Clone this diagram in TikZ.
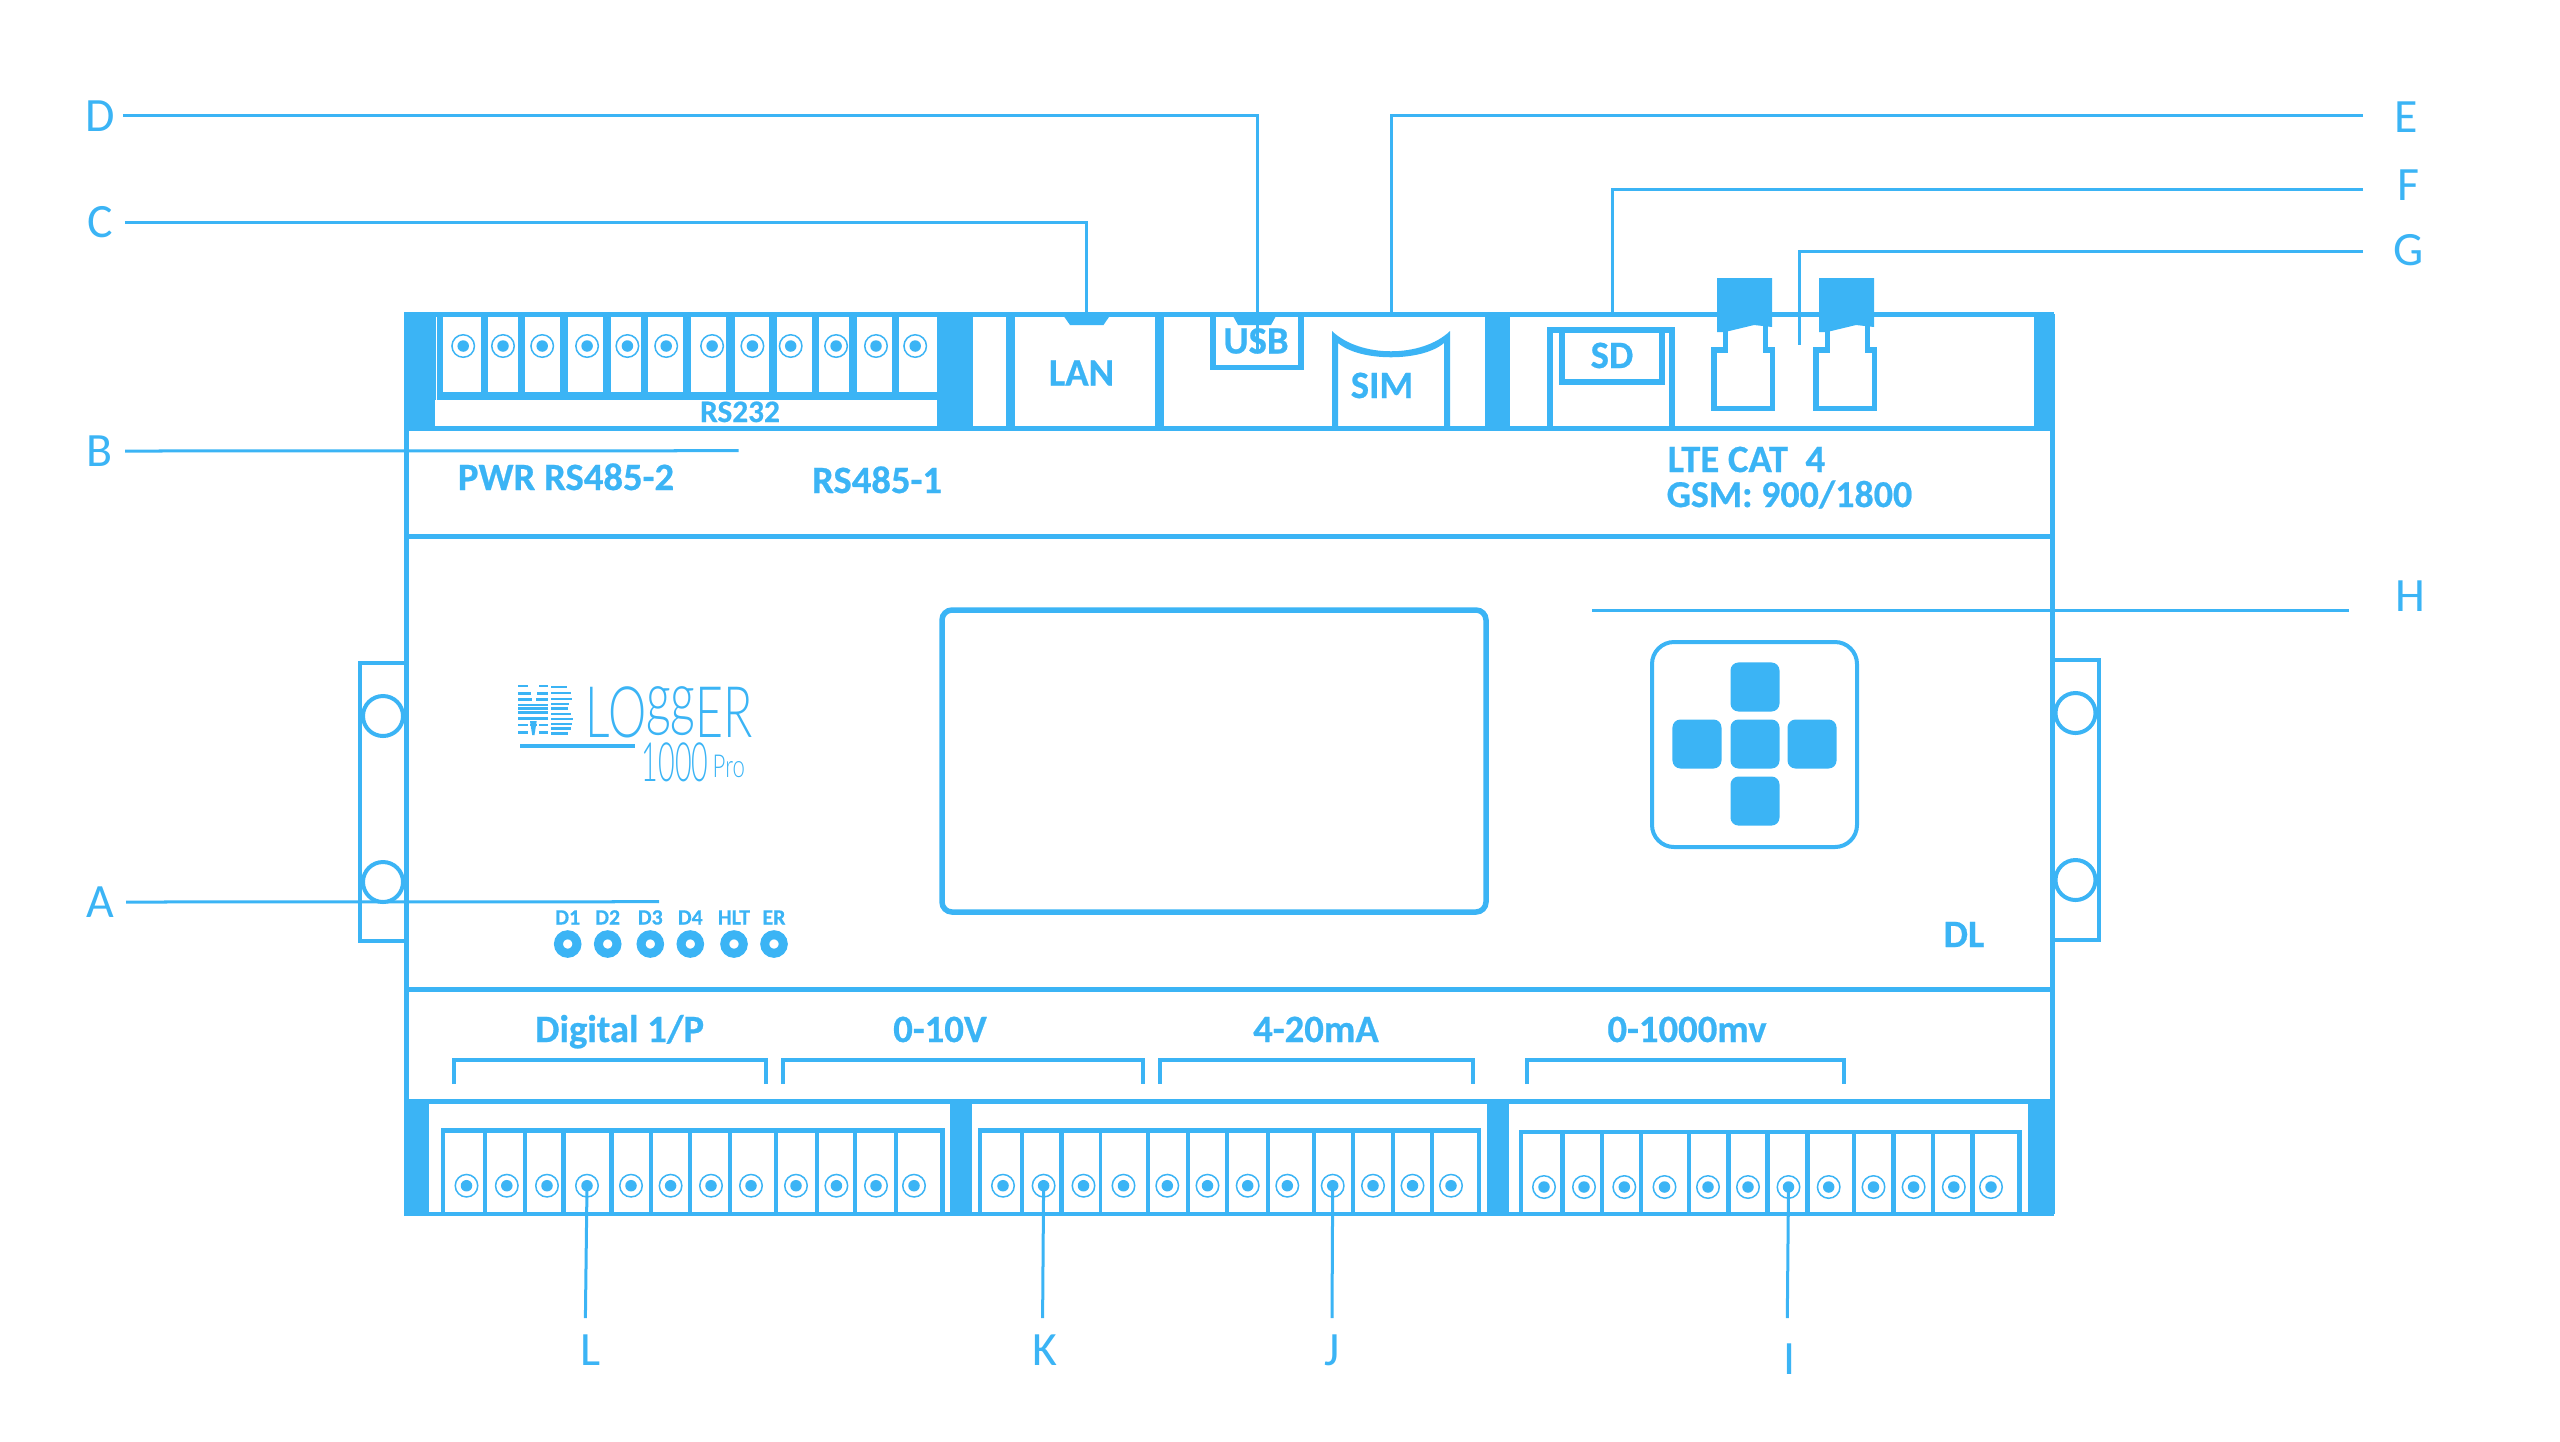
\documentclass[tikz,border=0pt]{standalone}
\usepackage{fontspec}
\setmainfont{Carlito}[BoldFeatures={FakeBold=0.6}]
\newfontfamily\logofont{Lato}[UprightFont=* Light]
\usepackage{xcolor}
\definecolor{dlblue}{HTML}{3BB4F5}
\usetikzlibrary{positioning}

\begin{document}
\begin{tikzpicture}
          [x=0.01cm, y=-0.01cm,
           leader/.style={draw=dlblue, line width=0.03cm},
           tag/.style={text=dlblue, font=\fontsize{13.6}{15}\selectfont, text height=0.31cm, text depth=0pt, inner sep=0.07cm},
           panel/.style={text=dlblue, font=\bfseries\fontsize{11}{13}\selectfont, anchor=base, inner sep=0pt},
           small panel/.style={panel, font=\bfseries\fontsize{8.9}{10}\selectfont},
           led panel/.style={panel, font=\bfseries\fontsize{6.2}{7}\selectfont},
           heavy/.style={draw=dlblue, line width=0.05cm},
           clip line/.style={draw=dlblue, line width=0.04cm},
           termring/.style={circle, draw=dlblue, line width=0.015cm, fill=white, minimum size=0.225cm, inner sep=0pt, outer sep=0pt},
           termdot/.style={circle, fill=dlblue, minimum size=0.115cm, inner sep=0pt, outer sep=0pt},
           ledspot/.style={circle, draw=dlblue, line width=0.09cm, fill=white, minimum size=0.185cm, inner sep=0pt, outer sep=0pt},
           keybtn/.style={rectangle, rounded corners=0.08cm, fill=dlblue, minimum size=0.49cm, inner sep=0pt, outer sep=0pt},
           hole/.style={circle, draw=dlblue, line width=0.04cm, fill=white, minimum size=0.40cm, inner sep=0pt, outer sep=0pt},
           logotext/.style={text=dlblue, anchor=base west, inner sep=0pt}]
          \useasboundingbox (0,0) rectangle (2560,1441);

          % clips at the sides
          \draw[clip line] (406,663) -- (360,663) -- (360,941) -- (406,941);
          \draw[clip line] (2052,660) -- (2099,660) -- (2099,940) -- (2052,940);
          \node (holea) [hole] at (383,716) {};
          \node (holeb) [hole] at (383,882) {};
          \node (holec) [hole] at (2075.5,713) {};
          \node (holed) [hole] at (2075.5,880) {};

          % top band
          \fill[dlblue] (404,312) rectangle (1164,431);
          \fill[white] (436,316) rectangle (437,400);
          \foreach \a/\b in {443.3/480.5, 488/518, 525.4/560, 567.8/603, 610.6/640.7, 647.9/683, 690.7/726.4, 734.6/769.3, 777/812, 819.3/849.4, 857/891.7, 899.4/937}
            \fill[white] (\a,316) rectangle (\b,392);
          \fill[white] (435,400) rectangle (937,426);
          \fill[white] (973,316) rectangle (1005.5,426);
          \fill[white] (1015,316) rectangle (1155,426);
          \fill[dlblue] (1485,312) rectangle (1509.5,431);
          \fill[dlblue] (2033.6,312) rectangle (2054,431);
          \foreach \x [count=\i] in {463.2, 503, 542.2, 587.1, 627.4, 666.2, 712.1, 752.4, 790.7, 836.1, 876, 915.2} {
            \node (topring\i) [termring] at (\x,346) {};
            \node (topdot\i) [termdot] at (\x,346) {};
          }
          \fill[dlblue] (1063.7,316) -- (1109.6,316) -- (1103.5,325) -- (1070,325) -- cycle;

          % frame
          \draw[heavy] (406,314) -- (406,1214);
          \draw[heavy] (2052,314) -- (2052,1214);
          \draw[heavy] (404,314) -- (2054,314);
          \draw[heavy] (404,428.5) -- (2054,428.5);
          \draw[heavy] (404,536.5) -- (2054,536.5);
          \draw[heavy] (404,989) -- (2054,989);
          \draw[heavy] (404,1101) -- (2054,1101);

          % usb, sim, sd, antennas
          \draw[line width=0.055cm, draw=dlblue] (1213,314) -- (1213,367.5) -- (1301,367.5) -- (1301,314);
          \fill[dlblue] (1233,316) -- (1276,316) -- (1271,325) -- (1238,325) -- cycle;
          \fill[dlblue] (1332,331) .. controls (1360,358) and (1422,358) .. (1450,331)
            -- (1450,426) -- (1444,426) -- (1444,343) .. controls (1422,362) and (1360,362) .. (1338,343)
            -- (1338,426) -- (1332,426) -- cycle;
          \draw[line width=0.06cm, draw=dlblue] (1550,428) -- (1550,330) -- (1672,330) -- (1672,428);
          \draw[line width=0.055cm, draw=dlblue] (1562,330) -- (1562,382) -- (1662,382) -- (1662,330);
          \foreach \px in {0,102} {
            \begin{scope}[shift={(\px,0)}]
              \fill[dlblue] (1717,278) -- (1772,278) -- (1772,327) -- (1754,325) -- (1725,332) -- (1717,332) -- cycle;
              \draw[line width=0.055cm, draw=dlblue] (1725.3,328) -- (1725.3,350) -- (1714,350) -- (1714,408.5) -- (1772.4,408.5) -- (1772.4,350) -- (1765.5,350) -- (1765.5,325);
            \end{scope}
          }

          % screen and keypad
          \draw[draw=dlblue, line width=0.055cm, rounded corners=0.1cm] (942,610) rectangle (1486,912);
          \draw[draw=dlblue, line width=0.04cm, rounded corners=0.22cm] (1652,642) rectangle (1857,847);
          \node (keymid) [keybtn] at (1755,744) {};
          \node (keyup) [keybtn, above = 0.08cm of keymid] {};
          \node (keydown) [keybtn, below = 0.08cm of keymid] {};
          \node (keyleft) [keybtn, left = 0.09cm of keymid] {};
          \node (keyright) [keybtn, right = 0.08cm of keymid] {};

          % logo
          \foreach \r/\a/\b in {686/518.3/528.3, 686/539/548.3, 693.3/518.3/530.7, 693.3/536.7/548.3, 699.3/518.3/531.7, 699.3/535.7/548.3, 705/518.3/548.3, 708.3/518.3/548.3, 712.3/518.3/548.3, 718.3/518.3/548.3, 725/518.3/528.3, 725/530/536.7, 725/539/548.3, 732.3/518.3/528.3, 732.3/539/548.3, 686.7/551/566.7, 692.7/551/570.7, 698.7/551/572.3, 703.7/551/569.3, 708.3/551/568.3, 714/551/571, 718.7/551/573, 723.7/551/572.3, 728.3/551/570.7, 733.3/551/568.3}
            \fill[dlblue] (\a,\r-1.2) rectangle (\b,\r+1.2);
          \fill[dlblue] (530,721) -- (536.7,721) -- (534.5,735) -- (532.2,735) -- cycle;
          \fill[dlblue] (520,744) rectangle (635,748);
          \node (logoa) [logotext] at (585,737) {\logofont\fontsize{20.2}{22}\selectfont\scalebox{0.68}[1]{LO\raisebox{0.2em}{gg}ER}};
          \node (logob) [logotext] at (641,781) {\logofont\fontsize{15.4}{16}\selectfont\scalebox{0.53}[1]{1000}};
          \node (logoc) [logotext] at (712,777) {\logofont\fontsize{9}{10}\selectfont\scalebox{0.7}[1]{Pro}};

          % leds
          \foreach \x/\txt [count=\i] in {567.7/D1, 607.7/D2, 650.3/D3, 690.3/D4, 734/HLT, 774/ER} {
            \node (ledspot\i) [ledspot] at (\x,944) {};
            \node (ledtxt\i) [led panel] at (\x,924.5) {\txt};
          }

          % bottom band
          \fill[dlblue] (404,1099) rectangle (429,1216);
          \fill[dlblue] (950,1099) rectangle (972,1216);
          \fill[dlblue] (1486.5,1099) rectangle (1509,1216);
          \fill[dlblue] (2028,1099) rectangle (2054,1216);
          \fill[dlblue] (404,1212) rectangle (2054,1216);
          \fill[dlblue] (441,1128) rectangle (944.6,1216);
          \fill[dlblue] (978,1128) rectangle (1481,1216);
          \fill[dlblue] (1518.7,1130) rectangle (2021.5,1216);
          \foreach \a/\b in {445/483, 487/523, 527/561.4, 566/609, 613.5/649, 653/688, 692/728, 732/774, 778/814.5, 818.6/853, 857/894, 897.7/940, 982/1019.6, 1024/1059, 1063.5/1098.7, 1102/1146, 1150/1186, 1190/1225, 1229/1266, 1270/1311.5, 1315.5/1351, 1355/1391, 1395/1430, 1434/1477}
            \fill[white] (\a,1133) rectangle (\b,1212);
          \foreach \a/\b in {1522.7/1560, 1564.6/1599.6, 1604/1639, 1643/1687, 1691/1726, 1730.5/1765, 1769.5/1805, 1809.7/1851.6, 1856/1891, 1896/1931, 1935.4/1970, 1975/2017}
            \fill[white] (\a,1134) rectangle (\b,1212);
          \foreach \x [count=\i] in {466.5, 506.8, 547, 587, 631, 670.6, 711, 751, 796, 836.4, 876, 914} {
            \node (lowring\i) [termring] at (\x,1185.7) {};
            \node (lowdot\i) [termdot] at (\x,1185.7) {};
          }
          \foreach \x [count=\i] in {1003, 1043.6, 1083.5, 1123.5, 1167.3, 1207.5, 1247.7, 1287.3, 1332.7, 1373, 1412.5, 1451} {
            \node (midring\i) [termring] at (\x,1185.7) {};
            \node (middot\i) [termdot] at (\x,1185.7) {};
          }
          \foreach \x [count=\i] in {1544, 1584, 1624.3, 1664.5, 1708, 1748, 1788.5, 1828.7, 1873.5, 1913.6, 1953.8, 1991} {
            \node (endring\i) [termring] at (\x,1187) {};
            \node (enddot\i) [termdot] at (\x,1187) {};
          }

          % group brackets
          \draw[clip line] (454,1084) -- (454,1059.5) -- (765.5,1059.5) -- (765.5,1084);
          \draw[clip line] (783,1084) -- (783,1059.5) -- (1143,1059.5) -- (1143,1084);
          \draw[clip line] (1160,1084) -- (1160,1059.5) -- (1472.5,1059.5) -- (1472.5,1084);
          \draw[clip line] (1526.5,1084) -- (1526.5,1059.5) -- (1844,1059.5) -- (1844,1084);

          % printed texts
          \node (lan) [panel] at (1081.5,385.5) {LAN};
          \node (rsb) [small panel] at (740,422) {RS232};
          \node (pwr) [panel] at (566,490) {PWR RS485-2};
          \node (rsa) [panel] at (877,493) {RS485-1};
          \node (usb) [panel] at (1256,353.5) {USB};
          \node (sim) [panel] at (1382,398) {SIM};
          \node (sd) [panel] at (1612,368) {SD};
          \node (lte) [panel, anchor=base west] at (1667,472) {LTE CAT\ \ 4};
          \node (gsm) [panel, anchor=base west, font=\bfseries\fontsize{10.8}{13}\selectfont] at (1666,507) {GSM: 900/1800};
          \node (dl) [panel] at (1964,947) {DL};
          \node (digi) [panel] at (619.6,1042) {Digital 1/P};
          \node (volt) [panel] at (940,1042) {0-10V};
          \node (curr) [panel] at (1316,1042) {4-20mA};
          \node (mill) [panel] at (1687,1042) {0-1000mv};

          % letters
          \node (D) [tag] at (100.5,115.5) {D};
          \node (C) [tag] at (100,222) {C};
          \node (B) [tag] at (100,451) {B};
          \node (A) [tag] at (100,902) {A};
          \node (E) [tag] at (2406,117) {E};
          \node (F) [tag] at (2408.5,185) {F};
          \node (G) [tag] at (2409,250) {G};
          \node (H) [tag] at (2410,596) {H};
          \node (I) [tag] at (1790,1359) {I};
          \node (J) [tag] at (1332.5,1350) {J};
          \node (K) [tag] at (1045,1350) {K};
          \node (L) [tag] at (591,1350) {L};

          \coordinate (lantip) at (1086.6,316);
          \coordinate (usbtip) at (1257.5,353);
          \coordinate (simtip) at (1391,314);
          \coordinate (sdtip) at (1612,314);
          \coordinate (anttip) at (1799.5,345);
          \coordinate (rstip) at (738.7,450.7);
          \coordinate (ledtip) at (659,901.7);
          \coordinate (Eend) at (2363,115.3);
          \coordinate (Fend) at (2363,189);
          \coordinate (Gend) at (2363,251);
          \coordinate (Hstart) at (1592,610);
          \coordinate (Hend) at (2349,610);
          \coordinate (Lend) at (585.4,1318);
          \coordinate (Kend) at (1042.6,1318);
          \coordinate (Jend) at (1332,1318);
          \coordinate (Iend) at (1787.3,1318);

          \draw[leader] (D.east) -| (usbtip);
          \draw[leader, shorten <=0.045cm] (C.east) -| (lantip);
          \draw[leader, shorten <=0.045cm] (B.east) -- (rstip);
          \draw[leader, shorten <=0.045cm] (A.east) -- (ledtip);
          \draw[leader] (Eend) -| (simtip);
          \draw[leader] (Fend) -| (sdtip);
          \draw[leader] (Gend) -| (anttip);
          \draw[leader] (Hstart) -- (Hend);
          \draw[leader] (Lend) -- (lowring4.center);
          \draw[leader] (Kend) -- (midring2.center);
          \draw[leader] (Jend) -- (midring9.center);
          \draw[leader] (Iend) -- (endring7.center);
        \end{tikzpicture}
\end{document}
